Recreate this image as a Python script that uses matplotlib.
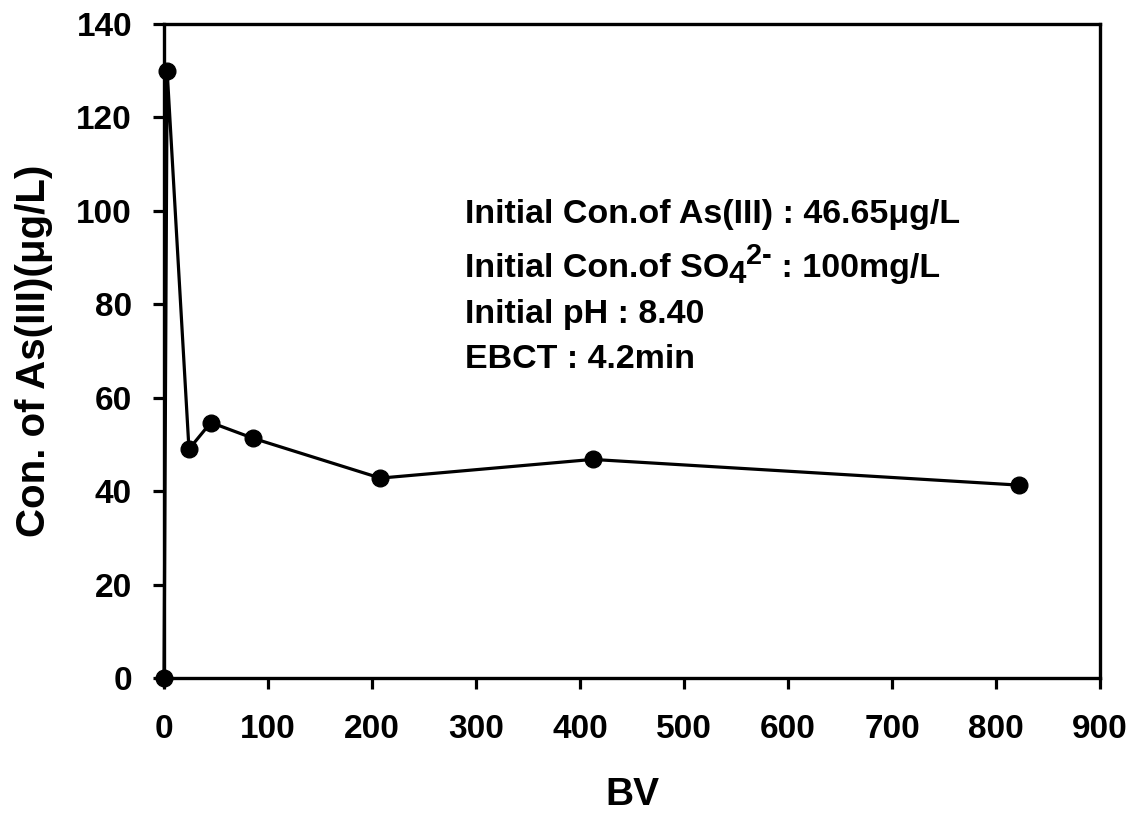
import matplotlib
matplotlib.use('Agg')
import matplotlib.pyplot as plt

bv = [0, 3, 24, 45, 86, 208, 412, 822]
conc = [0, 130, 49, 54.7, 51.3, 42.8, 46.8, 41.3]
note_x = 289
note_y = [97.3, 85.8, 75.9, 66.3]   # baselines

plt.rcParams['font.family'] = ['Liberation Sans', 'DejaVu Sans']
plt.rcParams['font.weight'] = 'bold'

fig = plt.figure(figsize=(11.39, 8.15), dpi=100)
ax = fig.add_axes([0.144, 0.168, 0.8218, 0.8026])

ax.plot(bv, conc, color='black', lw=2.3, marker='o', ms=12, clip_on=False, zorder=3)

ax.set_xlim(0, 900)
ax.set_ylim(0, 140)
ax.set_xticks(range(0, 901, 100))
ax.set_yticks(range(0, 141, 20))
for s in ax.spines.values():
    s.set_linewidth(2.4)
ax.tick_params(direction='out', length=8, width=2.3, labelsize=24)
ax.tick_params(axis='x', pad=18)
ax.tick_params(axis='y', pad=15)
for lab in ax.get_xticklabels() + ax.get_yticklabels():
    lab.set_fontweight('bold')

ax.set_xlabel('BV', fontsize=28, fontweight='bold', labelpad=23)
ax.set_ylabel('Con. of As(III)(μg/L)', fontsize=29, fontweight='bold', labelpad=17)

fs = 24.5
ax.text(note_x, note_y[0], 'Initial Con.of As(III) : 46.65μg/L', fontsize=fs, va='baseline')
# SO4 2- line built from pieces so the sub/superscripts stay large
t = ax.text(note_x, note_y[1], 'Initial Con.of SO', fontsize=fs, va='baseline')
t = ax.annotate('4', xy=(1, 0), xycoords=t, xytext=(0, -4), textcoords='offset points',
                fontsize=fs * 0.92, va='bottom')
t = ax.annotate('2-', xy=(1, 0), xycoords=t, xytext=(0, 14), textcoords='offset points',
                fontsize=fs * 0.85, va='bottom')
ax.annotate(' : 100mg/L', xy=(1, 0), xycoords=t, xytext=(0, -10), textcoords='offset points',
            fontsize=fs, va='bottom')
ax.text(note_x, note_y[2], 'Initial pH : 8.40', fontsize=fs, va='baseline')
ax.text(note_x, note_y[3], 'EBCT : 4.2min', fontsize=fs, va='baseline')

fig.savefig('out.png', dpi=100)
